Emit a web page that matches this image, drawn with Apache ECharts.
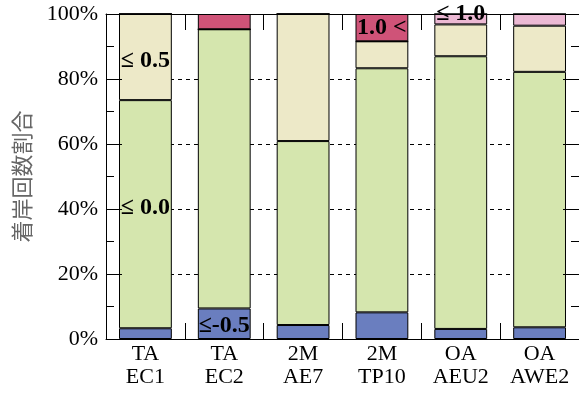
<!DOCTYPE html>
<html>
<head>
<meta charset="utf-8">
<script src="https://cdn.jsdelivr.net/npm/echarts@6/dist/echarts.min.js"></script>
<style>html,body{margin:0;padding:0;background:#fff}#c{width:579px;height:394px}</style>
</head>
<body>
<div id="c"></div>
<script>
var categories = ['TA\nEC1', 'TA\nEC2', '2M\nAE7', '2M\nTP10', 'OA\nAEU2', 'OA\nAWE2'];
var seriesNames = ['≤-0.5', '≤ 0.0', '≤ 0.5', '≤ 1.0', '1.0 <'];
var leM05 = [3.3, 9.4, 4.3, 8.2, 3.1, 3.6];
var le00 = [70.2, 85.9, 56.6, 75.1, 83.9, 78.6];
var le05 = [26.5, 0, 39.1, 8.3, 9.8, 14.2];
var le10 = [0, 0, 0, 0, 3.2, 3.6];
var gt10 = [0, 4.7, 0, 8.4, 0, 0];
var labelAt = [1, 0, 0, 4, 3];
var labelOffsetY = [2, -6, 4, -5, 0];
var colors = ['#6a7ebf', '#d5e6ae', '#ede9c8', '#ecb9d4', '#cf5378'];
var yTicks = [0, 20, 40, 60, 80, 100];

var allData = [leM05, le00, le05, le10, gt10];
var serif = 'Liberation Serif';

var series = allData.map(function (vals, si) {
  return {
    name: seriesNames[si], type: 'bar', stack: 'all', barCategoryGap: '33%',
    itemStyle: { color: colors[si], borderColor: '#000', borderWidth: 1 },
    data: vals.map(function (v, i) {
      var d = { value: v };
      if (i === labelAt[si]) {
        d.label = { show: true, position: 'inside', offset: [0, labelOffsetY[si]], formatter: seriesNames[si],
          fontFamily: serif, fontWeight: 'bold', fontSize: 24, color: '#000' };
      }
      return d;
    })
  };
});

function tick() { return { show: true, inside: true, length: 16, lineStyle: { color: '#000', width: 1 } }; }
function minor() { return { show: true, splitNumber: 2, length: 8, lineStyle: { color: '#000', width: 1 } }; }

var chart = echarts.init(document.getElementById('c'), null, { renderer: 'canvas' });
chart.setOption({
  animation: false,
  grid: { left: 106, right: -2, top: 14, bottom: 55, containLabel: false },
  xAxis: [
    { type: 'category', data: categories, position: 'bottom',
      axisLine: { onZero: false, lineStyle: { color: '#000', width: 1 } },
      axisTick: tick(),
      axisLabel: { fontFamily: serif, fontSize: 22, color: '#000', lineHeight: 23, margin: 4 }, z: 5 },
    { type: 'category', data: categories, position: 'top',
      axisLine: { onZero: false, lineStyle: { color: '#000', width: 1 } },
      axisTick: tick(), axisLabel: { show: false }, z: 5 }
  ],
  yAxis: [
    { type: 'value', min: yTicks[0], max: yTicks[yTicks.length - 1], interval: 20, position: 'left',
      name: '着岸回数割合', nameLocation: 'middle', nameGap: 73, nameRotate: 90,
      nameTextStyle: { fontFamily: 'Noto Sans CJK JP', fontSize: 22, color: '#666' },
      axisLine: { show: true, onZero: false, lineStyle: { color: '#000' } },
      axisTick: tick(), minorTick: minor(),
      axisLabel: { fontFamily: serif, fontSize: 22, color: '#000', margin: 8, formatter: '{value}%' },
      splitLine: { show: false }, z: 5 },
    { type: 'value', min: 0, max: 100, interval: 20, position: 'right',
      axisLine: { show: true, onZero: false, lineStyle: { color: '#000' } },
      axisTick: tick(), minorTick: minor(),
      axisLabel: { show: false }, splitLine: { show: false }, z: 5 },
    { type: 'value', min: 0, max: 100, interval: 20, position: 'left',
      axisLine: { show: false, onZero: false }, axisTick: { show: false }, axisLabel: { show: false },
      splitLine: { show: true, lineStyle: { color: '#000', type: [4, 4], width: 1 } }, z: 0 }
  ],
  series: series
});
</script>
</body>
</html>
